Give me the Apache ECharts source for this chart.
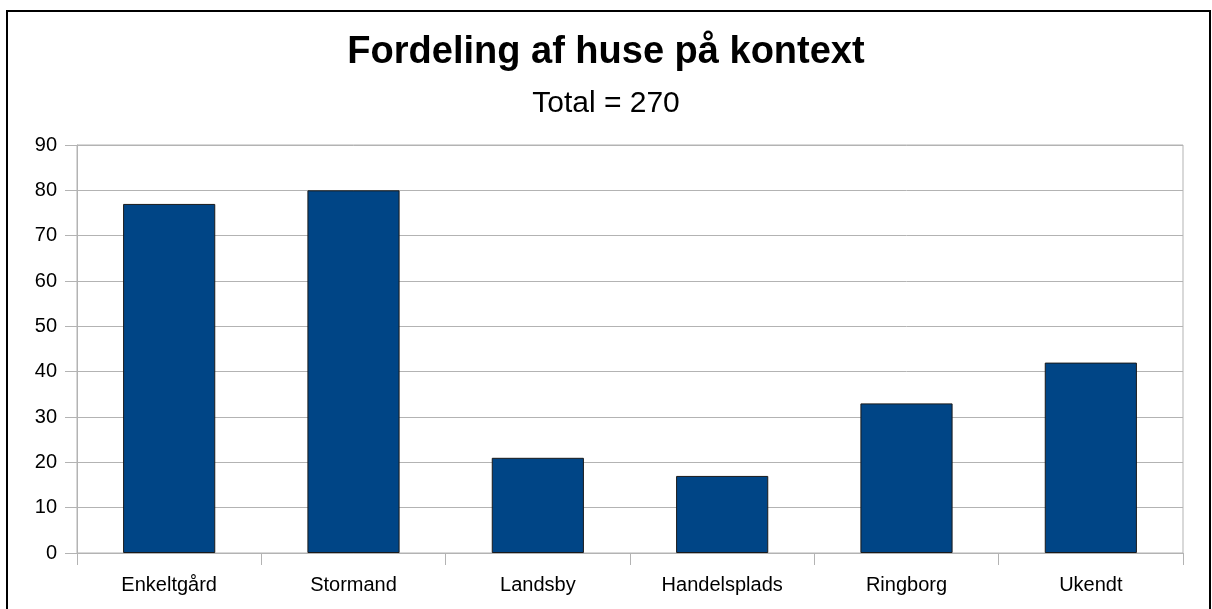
<!DOCTYPE html>
<html>
<head>
<meta charset="utf-8">
<script src="https://cdn.jsdelivr.net/npm/echarts@6/dist/echarts.min.js"></script>
<style>
html,body{margin:0;padding:0;background:#fff;}
#chart{width:1212px;height:609px;}
</style>
</head>
<body>
<div id="chart"></div>
<script>
const categories = ['Enkeltgård', 'Stormand', 'Landsby', 'Handelsplads', 'Ringborg', 'Ukendt'];
const values = [77, 80, 21, 17, 33, 42];
const titleText = 'Fordeling af huse på kontext';
const subtitleText = 'Total = 270';

const chart = echarts.init(document.getElementById('chart'), null, {renderer: 'canvas'});
const font = '"Liberation Sans", Arial, sans-serif';
chart.setOption({
  backgroundColor: '#fff',
  animation: false,
  title: [
    {text: titleText, left: 'center', top: 29, textStyle: {fontFamily: font, fontSize: 38, fontWeight: 'bold', color: '#000'}},
    {text: subtitleText, left: 'center', top: 84, textStyle: {fontFamily: font, fontSize: 30, fontWeight: 'normal', color: '#000'}}
  ],
  graphic: [{
    type: 'rect', silent: true, z: 100,
    shape: {x: 7, y: 11, width: 1203, height: 700},
    style: {fill: 'none', stroke: '#000', lineWidth: 2}
  }],
  grid: {left: 77, right: 29, top: 145, bottom: 56, show: true, borderColor: '#b3b3b3', borderWidth: 1, containLabel: false},
  xAxis: {
    type: 'category', data: categories, boundaryGap: true,
    axisLine: {show: true, lineStyle: {color: '#b3b3b3'}},
    axisTick: {show: true, length: 12, alignWithLabel: false, interval: 0, lineStyle: {color: '#b3b3b3'}},
    axisLabel: {fontFamily: font, fontSize: 20, color: '#000', margin: 22, interval: 0}
  },
  yAxis: {
    type: 'value', min: 0, max: 90, interval: 10,
    axisLine: {show: true, lineStyle: {color: '#b3b3b3'}},
    axisTick: {show: true, length: 12, lineStyle: {color: '#b3b3b3'}},
    axisLabel: {fontFamily: font, fontSize: 20, color: '#000', margin: 20},
    splitLine: {show: true, lineStyle: {color: '#b3b3b3', width: 1}}
  },
  series: [{
    type: 'bar', data: values, barWidth: '50%',
    itemStyle: {color: '#004586', borderColor: '#1a1a1a', borderWidth: 1}
  }]
});
</script>
</body>
</html>
